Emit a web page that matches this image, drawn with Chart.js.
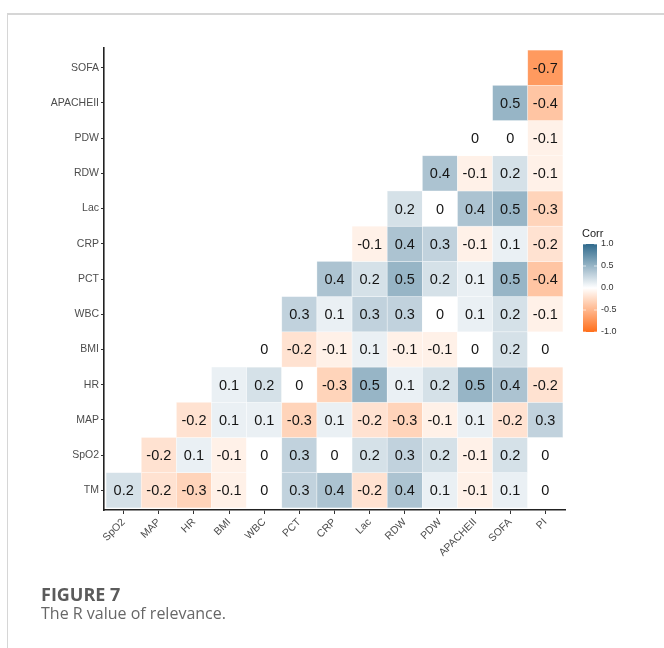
<!DOCTYPE html>
<html>
<head>
<meta charset="utf-8">
<script src="https://cdn.jsdelivr.net/npm/chart.js@4.4.1/dist/chart.umd.min.js"></script>
<style>
  html, body { margin: 0; padding: 0; background: #fff; width: 664px; height: 648px; overflow: hidden; }
  #card { position: absolute; left: 7px; top: 13px; width: 700px; height: 700px;
          border-top: 2px solid #d6d6d6; border-left: 1px solid #d6d6d6; }
  #chart { position: absolute; left: 0; top: 0; }
  .fig { position: absolute; left: 41px; top: 584px; font-family: "Open Sans", sans-serif;
         font-weight: 700; font-size: 18px; line-height: 20px; color: #5b5b5b; }
  .cap { position: absolute; left: 41px; top: 603px; font-family: "Open Sans", sans-serif;
         font-size: 16px; line-height: 20px; color: #676767; }
</style>
</head>
<body>
<div id="card"></div>
<canvas id="chart" width="664" height="648"></canvas>
<div class="fig">FIGURE 7</div>
<div class="cap">The R value of relevance.</div>
<script>
// Variables on the vertical axis (bottom to top) and on the horizontal axis (left to right)
const rowVars = ['TM', 'SpO2', 'MAP', 'HR', 'BMI', 'WBC', 'PCT', 'CRP', 'Lac', 'RDW', 'PDW', 'APACHEII', 'SOFA'];
const colVars = ['SpO2', 'MAP', 'HR', 'BMI', 'WBC', 'PCT', 'CRP', 'Lac', 'RDW', 'PDW', 'APACHEII', 'SOFA', 'PI'];

// Pearson r for each row, starting at the column with the same index as the row
const rTM       = [0.2, -0.2, -0.3, -0.1, 0, 0.3, 0.4, -0.2, 0.4, 0.1, -0.1, 0.1, 0];
const rSpO2     = [-0.2, 0.1, -0.1, 0, 0.3, 0, 0.2, 0.3, 0.2, -0.1, 0.2, 0];
const rMAP      = [-0.2, 0.1, 0.1, -0.3, 0.1, -0.2, -0.3, -0.1, 0.1, -0.2, 0.3];
const rHR       = [0.1, 0.2, 0, -0.3, 0.5, 0.1, 0.2, 0.5, 0.4, -0.2];
const rBMI      = [0, -0.2, -0.1, 0.1, -0.1, -0.1, 0, 0.2, 0];
const rWBC      = [0.3, 0.1, 0.3, 0.3, 0, 0.1, 0.2, -0.1];
const rPCT      = [0.4, 0.2, 0.5, 0.2, 0.1, 0.5, -0.4];
const rCRP      = [-0.1, 0.4, 0.3, -0.1, 0.1, -0.2];
const rLac      = [0.2, 0, 0.4, 0.5, -0.3];
const rRDW      = [0.4, -0.1, 0.2, -0.1];
const rPDW      = [0, 0, -0.1];
const rAPACHEII = [0.5, -0.4];
const rSOFA     = [-0.7];

const rowValues = [rTM, rSpO2, rMAP, rHR, rBMI, rWBC, rPCT, rCRP, rLac, rRDW, rPDW, rAPACHEII, rSOFA];

// Legend scale values
const legendTicks = [1.0, 0.5, 0.0, -0.5, -1.0];

const cells = [];
rowValues.forEach((vals, i) => {
  vals.forEach((v, k) => cells.push({ x: i + k, y: i, v: v }));
});

const HIGH = [47, 106, 140];
const LOW = [255, 110, 26];
function corrColor(v) {
  const c = v >= 0 ? HIGH : LOW;
  const t = Math.min(1, Math.abs(v));
  const m = c.map(ch => Math.round(255 + (ch - 255) * t));
  return `rgb(${m[0]},${m[1]},${m[2]})`;
}
function fmt(v) { return v === 0 ? '0' : String(v); }

// Draws each tile and its r value using the chart's x / y scales
const tilePlugin = {
  id: 'tiles',
  beforeDatasetsDraw(chart) {
    const { ctx, scales: { x, y } } = chart;
    ctx.save();
    chart.data.datasets[0].data.forEach(p => {
      const x0 = x.getPixelForValue(p.x - 0.5), x1 = x.getPixelForValue(p.x + 0.5);
      const y0 = y.getPixelForValue(p.y + 0.5), y1 = y.getPixelForValue(p.y - 0.5);
      ctx.fillStyle = corrColor(p.v);
      ctx.fillRect(x0, y0, x1 - x0, y1 - y0);
      ctx.strokeStyle = 'rgba(255,255,255,0.55)';
      ctx.lineWidth = 0.6;
      ctx.strokeRect(x0, y0, x1 - x0, y1 - y0);
    });
    ctx.fillStyle = '#151515';
    ctx.font = '14.5px "Liberation Sans", Arial, sans-serif';
    ctx.textAlign = 'center';
    ctx.textBaseline = 'middle';
    chart.data.datasets[0].data.forEach(p => {
      ctx.fillText(fmt(p.v), x.getPixelForValue(p.x), y.getPixelForValue(p.y) + 1);
    });
    ctx.restore();
  }
};

// Colour bar legend titled "Corr"
const legendPlugin = {
  id: 'corrLegend',
  afterDraw(chart) {
    const ctx = chart.ctx;
    const bx = 583, bw = 14, top = 244, bottom = 332;
    ctx.save();
    ctx.fillStyle = '#1a1a1a';
    ctx.font = '11px "Liberation Sans", Arial, sans-serif';
    ctx.textAlign = 'left';
    ctx.textBaseline = 'alphabetic';
    ctx.fillText('Corr', 582, 237);
    const g = ctx.createLinearGradient(0, top, 0, bottom);
    for (let s = 0; s <= 20; s++) {
      const v = 1 - s / 10;
      g.addColorStop(s / 20, corrColor(v));
    }
    ctx.fillStyle = g;
    ctx.fillRect(bx, top, bw, bottom - top);
    ctx.font = '9px "Liberation Sans", Arial, sans-serif';
    ctx.textBaseline = 'middle';
    legendTicks.forEach(v => {
      const py = top + (1 - v) / 2 * (bottom - top);
      ctx.strokeStyle = 'rgba(255,255,255,0.8)';
      ctx.lineWidth = 0.8;
      ctx.beginPath();
      ctx.moveTo(bx, py); ctx.lineTo(bx + 3, py);
      ctx.moveTo(bx + bw - 3, py); ctx.lineTo(bx + bw, py);
      ctx.stroke();
      ctx.fillStyle = '#333';
      ctx.fillText(v.toFixed(1), bx + bw + 4, py);
    });
    ctx.restore();
  }
};

const tickFont = { family: '"Liberation Sans", Arial, sans-serif', size: 10.5 };

new Chart(document.getElementById('chart'), {
  type: 'scatter',
  data: {
    datasets: [{ data: cells, pointRadius: 0, pointHoverRadius: 0 }]
  },
  options: {
    responsive: false,
    animation: false,
    events: [],
    layout: { padding: { left: 0, top: 48, right: 99, bottom: 88 } },
    plugins: { legend: { display: false }, tooltip: { enabled: false } },
    scales: {
      x: {
        type: 'linear', position: 'bottom', min: -0.56, max: 12.56,
        afterBuildTicks: axis => { axis.ticks = colVars.map((_, i) => ({ value: i })); },
        afterFit: axis => { axis.height = 50; },
        ticks: {
          autoSkip: false, minRotation: 45, maxRotation: 45, padding: 2,
          color: '#4d4d4d', font: tickFont,
          callback: v => colVars[Math.round(v)]
        },
        grid: { drawOnChartArea: false, drawTicks: true, tickLength: 4, tickColor: '#333' },
        border: { color: '#222', width: 1.6 }
      },
      y: {
        type: 'linear', position: 'left', min: -0.56, max: 12.56,
        afterBuildTicks: axis => { axis.ticks = rowVars.map((_, i) => ({ value: i })); },
        afterFit: axis => { axis.width = 104; },
        ticks: {
          autoSkip: false, padding: 2, color: '#4d4d4d', font: tickFont,
          callback: v => rowVars[Math.round(v)]
        },
        grid: { drawOnChartArea: false, drawTicks: true, tickLength: 3, tickColor: '#333' },
        border: { color: '#222', width: 1.6 }
      }
    }
  },
  plugins: [tilePlugin, legendPlugin]
});
</script>
</body>
</html>
